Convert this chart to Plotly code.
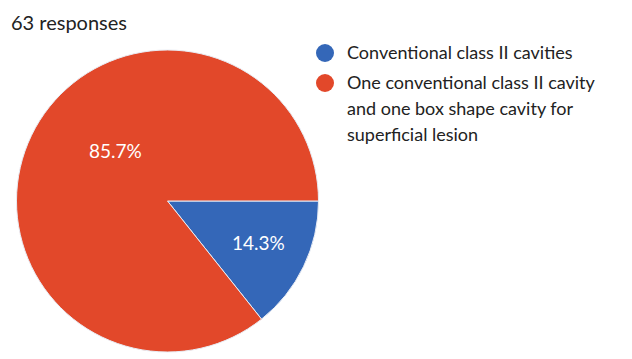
import plotly.graph_objects as go

# Survey answers (63 responses)
labels = [
    "Conventional class II cavities",
    "One conventional class II cavity and one box shape cavity for superficial lesion",
]
legend_lines = [
    ["Conventional class II cavities"],
    ["One conventional class II cavity", "and one box shape cavity for", "superficial lesion"],
]
shares = [14.3, 85.7]
colors = ["#3467B8", "#E2482A"]
title_text = "63 responses"

W, H = 632, 359
FONT = "Lato"

fig = go.Figure()
fig.add_trace(go.Pie(
    labels=labels,
    values=shares,
    sort=False,
    direction="clockwise",
    rotation=90,
    marker=dict(colors=colors, line=dict(color="#E8ECF4", width=1)),
    textinfo="none",
    showlegend=False,
    hoverinfo="label+percent",
    domain=dict(x=[16.5 / W, 318.5 / W], y=[1 - 352 / H, 1 - 50 / H]),
))

# percentage labels on the slices, text taken from the shares
total = sum(shares)
label_pos = [(258, 242), (115, 150)]
annotations = []
for v, (px, py) in zip(shares, label_pos):
    annotations.append(dict(
        text=f"{100 * v / total:.1f}%", x=px / W, y=1 - py / H,
        xref="paper", yref="paper", xanchor="center", yanchor="middle",
        showarrow=False, font=dict(family=FONT, size=19, color="white"),
    ))

annotations.append(dict(
    text=title_text, x=9 / W, y=1 - 22 / H, xref="paper", yref="paper",
    xanchor="left", yanchor="middle", showarrow=False,
    font=dict(family=FONT, size=20, color="#222222"),
))
shapes = []
item_tops = [52, 82]
for color, lines, top in zip(colors, legend_lines, item_tops):
    shapes.append(dict(
        type="circle", xref="paper", yref="paper",
        xsizemode="pixel", ysizemode="pixel",
        xanchor=325 / W, yanchor=1 - (top + 1) / H,
        x0=-9, x1=9, y0=-9, y1=9,
        fillcolor=color, line=dict(width=0),
    ))
    for i, line in enumerate(lines):
        annotations.append(dict(
            text=line, x=345 / W, y=1 - (top + 26 * i) / H,
            xref="paper", yref="paper", xanchor="left", yanchor="middle",
            showarrow=False, font=dict(family=FONT, size=18, color="#222222"),
        ))

fig.update_layout(
    width=W, height=H,
    margin=dict(l=0, r=0, t=0, b=0),
    paper_bgcolor="white", plot_bgcolor="white",
    annotations=annotations, shapes=shapes,
    showlegend=False,
)

fig.write_html("out.html")
